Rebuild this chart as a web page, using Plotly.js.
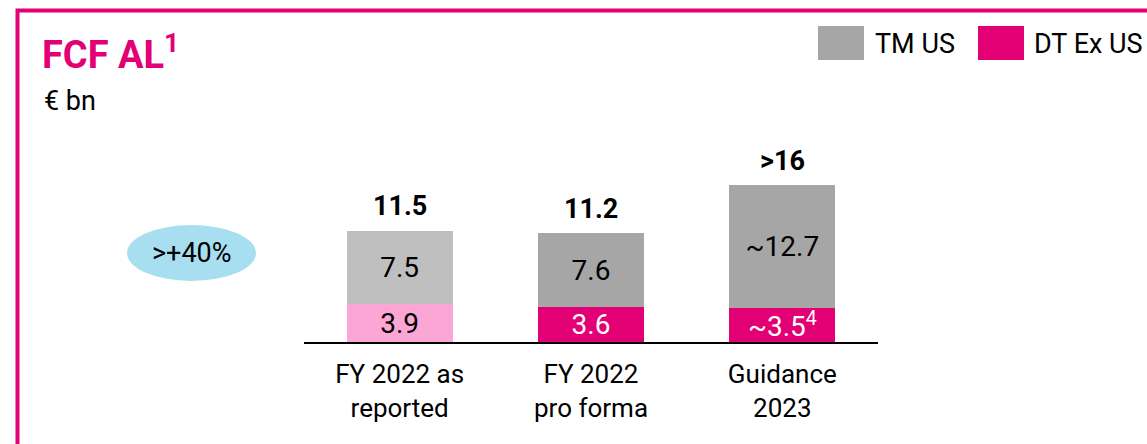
<!DOCTYPE html>
<html>
<head>
<meta charset="utf-8">
<script src="https://cdn.plot.ly/plotly-3.0.1.min.js"></script>
<style>
  html, body { margin: 0; padding: 0; background: #ffffff; overflow: hidden; }
  #chart { width: 1147px; height: 444px; }
</style>
</head>
<body>
<div id="chart"></div>
<script>
// ---- data ----
const categories = ["FY 2022 as reported", "FY 2022 pro forma", "Guidance 2023"];
const tickLabels = ["FY 2022 as<br>reported", "FY 2022<br>pro forma", "Guidance<br>2023"];
const seriesNames = ["TM US", "DT Ex US"];
const tmUS = [7.5, 7.6, 12.7];
const dtExUS = [3.9, 3.6, 3.5];
const tmLabels = ["7.5", "7.6", "~12.7"];
const dtLabels = ["3.9", "3.6", "~3.5<sup>4</sup>"];
const totals = [11.5, 11.2, 16.2];
const totalLabels = ["11.5", "11.2", ">16"];
const growthLabel = ">+40%";
const titleText = "FCF AL<sup>1</sup>";
const unitText = "€ bn";

// ---- styling ----
const W = 1147, H = 444;
const M = { l: 304, r: 269, t: 177, b: 102 };
const PW = W - M.l - M.r, PH = H - M.t - M.b;
const px = x => (x - M.l) / PW;          // pixel -> paper x
const py = y => (H - M.b - y) / PH;      // pixel -> paper y

const MAGENTA = "#e20074", PINK = "#fba6d4", GRAY = "#a6a6a6", LGRAY = "#bfbfbf";
const FONT = "Roboto, 'Noto Sans', sans-serif";

const traces = [
  {
    type: "bar", name: seriesNames[1], x: categories, y: dtExUS,
    marker: { color: [PINK, MAGENTA, MAGENTA], line: { width: 0 } },
    text: dtLabels, textposition: "inside", insidetextanchor: "middle",
    textfont: { family: FONT, size: 28, color: ["#000000", "#ffffff", "#ffffff"] },
    constraintext: "none", hoverinfo: "skip", showlegend: false
  },
  {
    type: "bar", name: seriesNames[0], x: categories, y: tmUS,
    marker: { color: [LGRAY, GRAY, GRAY], line: { width: 0 } },
    text: tmLabels, textposition: "inside", insidetextanchor: "middle",
    textfont: { family: FONT, size: 28, color: "#000000" },
    constraintext: "none", hoverinfo: "skip", showlegend: false
  }
];

const annotations = [];
categories.forEach((c, i) => {
  annotations.push({
    x: c, y: totals[i], xref: "x", yref: "y", text: "<b>" + totalLabels[i] + "</b>",
    showarrow: false, yanchor: "bottom", yshift: 6,
    font: { family: FONT, size: 27, color: "#000000" }
  });
});
annotations.push({
  x: px(42), y: py(101), xref: "paper", yref: "paper", xanchor: "left", yanchor: "middle",
  text: unitText, showarrow: false, font: { family: FONT, size: 27, color: "#000000" }
});
annotations.push({
  x: px(192), y: py(253), xref: "paper", yref: "paper", xanchor: "center", yanchor: "middle",
  text: growthLabel, showarrow: false, font: { family: FONT, size: 27, color: "#000000" }
});
annotations.push({
  x: px(873), y: py(44), xref: "paper", yref: "paper", xanchor: "left", yanchor: "middle",
  text: seriesNames[0], showarrow: false, font: { family: FONT, size: 27, color: "#000000" }
});
annotations.push({
  x: px(1032), y: py(44), xref: "paper", yref: "paper", xanchor: "left", yanchor: "middle",
  text: seriesNames[1], showarrow: false, font: { family: FONT, size: 27, color: "#000000" }
});

const shapes = [
  // outer frame
  { type: "rect", xref: "paper", yref: "paper", x0: px(17.5), x1: px(1170), y0: py(10.5), y1: py(470),
    line: { color: MAGENTA, width: 4 }, fillcolor: "rgba(0,0,0,0)", layer: "below" },
  // growth ellipse
  { type: "circle", xref: "paper", yref: "paper", x0: px(127), x1: px(256), y0: py(225), y1: py(281),
    line: { width: 0 }, fillcolor: "#a7dff0", layer: "below" },
  // legend swatches
  { type: "rect", xref: "paper", yref: "paper", x0: px(818), x1: px(864), y0: py(26), y1: py(60),
    line: { width: 0 }, fillcolor: GRAY },
  { type: "rect", xref: "paper", yref: "paper", x0: px(978), x1: px(1024), y0: py(26), y1: py(60),
    line: { width: 0 }, fillcolor: MAGENTA }
];

const layout = {
  width: W, height: H,
  margin: M,
  paper_bgcolor: "#ffffff", plot_bgcolor: "#ffffff",
  barmode: "stack", bargap: 0.445,
  showlegend: false,
  title: {
    text: titleText, xref: "container", yref: "container",
    x: 42 / W, xanchor: "left", y: 1 - 41 / H, yanchor: "top",
    font: { family: FONT, size: 38, color: MAGENTA, weight: "bold" }
  },
  xaxis: {
    type: "category", tickmode: "array", tickvals: categories, ticktext: tickLabels,
    showline: true, linecolor: "#000000", linewidth: 2, ticks: "",
    showgrid: false, zeroline: false, ticklabelstandoff: 8,
    tickfont: { family: FONT, size: 26, color: "#000000" }, fixedrange: true
  },
  yaxis: {
    range: [0, 17], visible: false, showgrid: false, zeroline: false, fixedrange: true
  },
  annotations: annotations,
  shapes: shapes
};

Plotly.newPlot("chart", traces, layout, { displayModeBar: false, staticPlot: true });
</script>
</body>
</html>
